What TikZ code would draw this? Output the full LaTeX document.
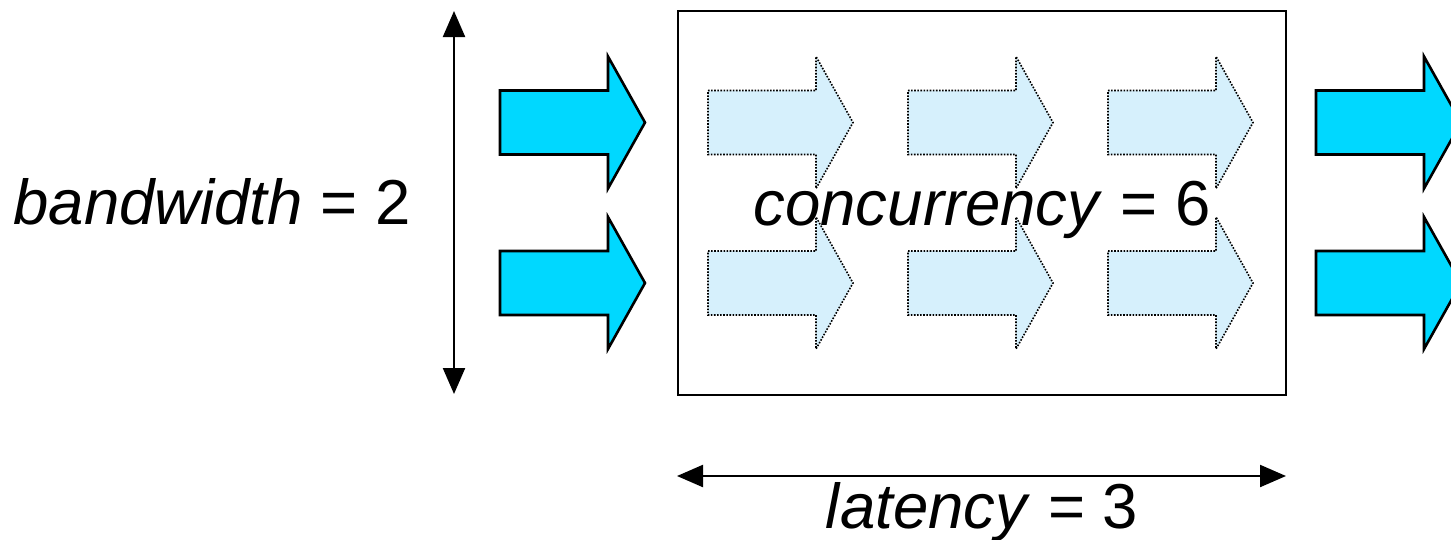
\documentclass[tikz,border=0pt]{standalone}
\usepackage{fontspec}
\setmainfont{Liberation Sans}
\usetikzlibrary{arrows.meta}
\definecolor{flowcyan}{RGB}{0,216,255}
\definecolor{ghostblue}{RGB}{214,240,252}
\tikzset{
  solidarrow/.style={fill=flowcyan, draw=black, line width=2.6pt, line join=miter},
  ghostarrow/.style={fill=ghostblue, draw=black, line width=1.6pt, dash pattern=on 1.6pt off 1.5pt},
  boxframe/.style={draw=black, line width=1.8pt},
  dimline/.style={draw=black, line width=2.2pt, {Triangle[length=26pt,width=22pt]}-{Triangle[length=26pt,width=22pt]}},
  bigtext/.style={font=\fontsize{63.5}{70}\selectfont, inner sep=0pt, anchor=base}
}
% fat arrow: #1 = left x, #2 = center y
\newcommand{\fatarrowpath}[2]{(#1,#2-32) -- (#1+108,#2-32) -- (#1+108,#2-66) -- (#1+145,#2) -- (#1+108,#2+66) -- (#1+108,#2+32) -- (#1,#2+32) -- cycle}
\begin{document}
\begin{tikzpicture}[x=1pt,y=-1pt]
\useasboundingbox (0,0) rectangle (1451,539);
\clip (0,0) rectangle (1451,539);
% box
\node[boxframe, minimum width=608pt, minimum height=384pt, inner sep=0pt, anchor=north west] (box) at (677,10) {};
% input arrows
\path[solidarrow] \fatarrowpath{500}{122.5};
\path[solidarrow] \fatarrowpath{500}{283};
% output arrows
\path[solidarrow] \fatarrowpath{1316}{122.5};
\path[solidarrow] \fatarrowpath{1316}{283};
% in-flight arrows
\foreach \cx in {708,908,1108}{
  \path[ghostarrow] \fatarrowpath{\cx}{122.5};
  \path[ghostarrow] \fatarrowpath{\cx}{283};
}
% bandwidth dimension
\coordinate (bwtop) at (454,11);
\coordinate (bwbot) at (454,394);
\draw[dimline] (bwtop) -- (bwbot);
% latency dimension
\coordinate (latl) at (677,476);
\coordinate (latr) at (1286,476);
\draw[dimline] (latl) -- (latr);
% labels
\node[bigtext] (bwlabel) at (212,224) {\textit{bandwidth} = 2};
\node[bigtext] (conclabel) at (982,225) {\textit{concurrency} = 6};
\node[bigtext] (latlabel) at (982,528) {\textit{latency} = 3};
\end{tikzpicture}
\end{document}
